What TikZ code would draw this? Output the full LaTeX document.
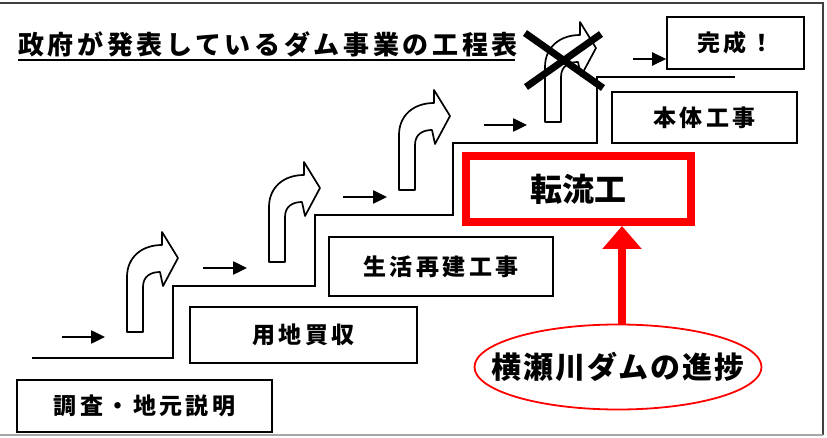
\documentclass[tikz,border=0pt]{standalone}
\usepackage{fontspec}
\newfontfamily\jp{Noto Sans CJK JP}
\usetikzlibrary{arrows.meta,shapes.geometric}
\begin{document}
\begin{tikzpicture}[x=1pt,y=-1pt,
  box/.style={draw=black,line width=1.6pt,inner sep=0pt,
    font=\jp\bfseries\fontsize{23}{23}\selectfont\addfontfeature{LetterSpace=15}},
  stair/.style={draw=black,line width=2.2pt,line join=miter},
  smallarrow/.style={draw=black,line width=2.5pt,-{Triangle[length=14pt,width=13pt]}},
  crossline/.style={draw=black,line width=7pt},
  curvarrow/.pic={\draw[line width=1.7pt,line join=round,fill=white]
      (0,0) -- (16,0) -- (16,-45) .. controls (16,-56) and (24,-60) .. (33,-60)
      -- (36,-46) -- (51,-74) -- (35,-100) -- (35,-87)
      .. controls (15,-87) and (0,-75) .. (0,-55) -- cycle;}
]
\useasboundingbox (0,0) rectangle (827,438);
% frame
\draw[line width=2pt,black!75] (0,3) -- (823,3) -- (823,435);
\draw[line width=1.5pt,black!35] (0,435) -- (823,435);

% title
\node[anchor=base west,inner sep=0pt,
  font=\jp\bfseries\fontsize{26}{26}\selectfont\addfontfeature{LetterSpace=14}]
  (title) at (18,55) {政府が発表しているダム事業の工程表};
\draw[line width=2pt] ([yshift=-5pt]title.base west) -- ([yshift=-5pt,xshift=-3pt]title.base east);

% staircase
\draw[stair] (32,358) -- (173,358) -- (173,286) -- (315,286) -- (315,215)
  -- (453,215) -- (453,143) -- (597,143) -- (597,77) -- (735,77);

% boxes
\node[box,minimum width=255pt,minimum height=52pt] (survey) at (144.5,406) {調査・地元説明};
\node[box,minimum width=227pt,minimum height=56pt] (land) at (303.5,335) {用地買収};
\node[box,minimum width=224pt,minimum height=59pt] (life) at (441,266.5) {生活再建工事};
\node[box,draw=red,line width=8pt,minimum width=225pt,minimum height=66pt,
  font=\jp\bfseries\fontsize{32}{32}\selectfont] (rbox) at (578.5,189) {転流工};
\node[box,minimum width=185pt,minimum height=51pt] (body) at (704.5,117.5) {本体工事};
\node[box,minimum width=137pt,minimum height=52pt] (done) at (735.5,43) {完成！};

% curved arrows
\pic at (127,332) {curvarrow};
\pic at (269,262) {curvarrow};
\pic at (399,190) {curvarrow};
\pic at (545,122) {curvarrow};

% small arrows
\coordinate (a1s) at (62,337);  \coordinate (a1e) at (105,337);
\coordinate (a2s) at (203,268); \coordinate (a2e) at (247,268);
\coordinate (a3s) at (343,197); \coordinate (a3e) at (387,197);
\coordinate (a4s) at (484,125); \coordinate (a4e) at (527,125);
\coordinate (a5s) at (633,59);
\draw[smallarrow] (a1s) -- (a1e);
\draw[smallarrow] (a2s) -- (a2e);
\draw[smallarrow] (a3s) -- (a3e);
\draw[smallarrow] (a4s) -- (a4e);
\draw[smallarrow] (a5s) -- (a5s -| done.west);

% cross
\coordinate (x1) at (525,33); \coordinate (x2) at (603,88);
\coordinate (x3) at (526,87); \coordinate (x4) at (601,34);
\draw[crossline] (x1) -- (x2);
\draw[crossline] (x3) -- (x4);

% progress ellipse
\node[ellipse,draw=red,line width=1.8pt,minimum width=287pt,minimum height=85pt,inner sep=0pt,
  font=\jp\bfseries\fontsize{30}{30}\selectfont\addfontfeature{LetterSpace=6}]
  (prog) at (618,367) {\makebox[0pt][c]{横瀬川ダムの進捗}};
\draw[red,line width=7.5pt,-{Triangle[length=23pt,width=38pt]}]
  ([xshift=4pt]prog.north) -- ([xshift=4pt]prog.north |- rbox.south);
\end{tikzpicture}
\end{document}
